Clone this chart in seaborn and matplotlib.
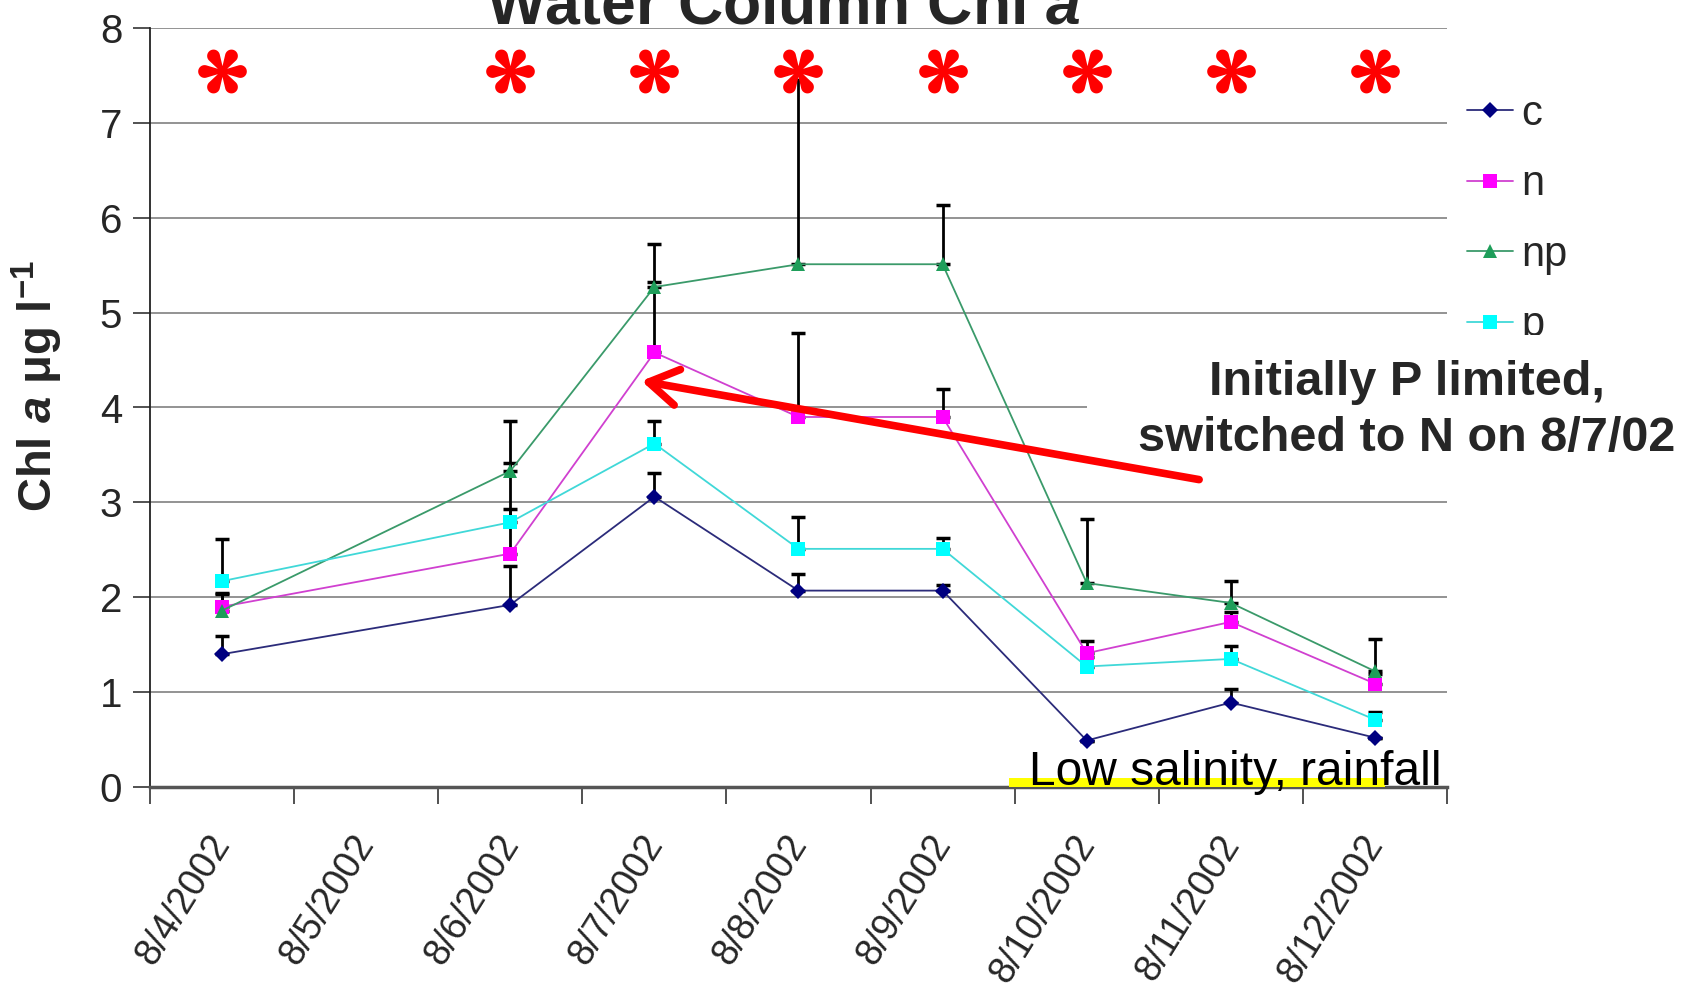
import numpy as np
import pandas as pd
import matplotlib
matplotlib.use("Agg")
import matplotlib.pyplot as plt
import seaborn as sns
from matplotlib.patches import Rectangle, FancyArrowPatch
from matplotlib.lines import Line2D
from matplotlib.path import Path

# ---------------- data ----------------
date_labels = ["8/4/2002", "8/5/2002", "8/6/2002", "8/7/2002", "8/8/2002",
               "8/9/2002", "8/10/2002", "8/11/2002", "8/12/2002"]
sample_dates = ["8/4/2002", "8/6/2002", "8/7/2002", "8/8/2002",
                "8/9/2002", "8/10/2002", "8/11/2002", "8/12/2002"]
series_names = ["c", "n", "np", "p"]

c_vals = [1.40, 1.92, 3.06, 2.07, 2.07, 0.49, 0.89, 0.52]
n_vals = [1.90, 2.46, 4.58, 3.90, 3.90, 1.41, 1.74, 1.09]
np_vals = [1.86, 3.33, 5.27, 5.51, 5.51, 2.15, 1.94, 1.22]
p_vals = [2.17, 2.79, 3.62, 2.51, 2.51, 1.27, 1.35, 0.71]

c_err = [0.19, 0.41, 0.25, 0.18, 0.06, 0.00, 0.14, 0.00]
n_err = [0.15, 0.96, 0.74, 0.89, 0.29, 0.13, 0.10, 0.10]
np_err = [0.17, 0.53, 0.45, 1.94, 0.62, 0.67, 0.23, 0.34]
p_err = [0.44, 0.14, 0.24, 0.34, 0.11, 0.10, 0.14, 0.08]

star_dates = ["8/4/2002", "8/6/2002", "8/7/2002", "8/8/2002",
              "8/9/2002", "8/10/2002", "8/11/2002", "8/12/2002"]
star_level = 7.55

title_text = r"Water Column Chl $a$"
ylabel_text = r"Chl $a$ μg l$^{-1}$"
note_line1 = "Initially P limited,"
note_line2 = "switched to N on 8/7/02"
salinity_text = "Low salinity, rainfall"

# ---------------- styling ----------------
sns.set_theme(style="white")
plt.rcParams["font.family"] = ["Liberation Sans", "DejaVu Sans"]
plt.rcParams["mathtext.fontset"] = "custom"
plt.rcParams["mathtext.rm"] = "Liberation Sans:bold"
plt.rcParams["mathtext.bf"] = "Liberation Sans:bold"
plt.rcParams["mathtext.it"] = "Liberation Sans:bold:italic"
plt.rcParams["mathtext.sf"] = "Liberation Sans:bold"

colors = {"c": "#000080", "n": "#FF00FF", "np": "#1E9E5A", "p": "#00FFFF"}
line_colors = {"c": "#2B2B7A", "n": "#D040D0", "np": "#3A9A6A", "p": "#40D8D8"}
markers = {"c": "D", "n": "s", "np": "^", "p": "s"}
msizes = {"c": 8, "n": 10, "np": 10, "p": 10}


def asterisk_path():
    """Six teardrop lobes, as in the reference's asterisk glyph."""
    verts, codes = [], []
    for ang in np.deg2rad(np.arange(0, 360, 60)):
        cx, r = 0.70, 0.25
        pts = [(0.0, -0.05)]
        for t in np.linspace(-np.pi / 2 - 0.25, np.pi / 2 + 0.25, 24):
            pts.append((cx + r * np.cos(t), r * np.sin(t)))
        pts.append((0.0, 0.05))
        ca, sa = np.cos(ang), np.sin(ang)
        rot = [(x * ca - y * sa, x * sa + y * ca) for x, y in pts]
        verts += rot + [rot[0]]
        codes += [Path.MOVETO] + [Path.LINETO] * (len(rot) - 1) + [Path.CLOSEPOLY]
    return Path(verts, codes)


W, H = 1683, 988
fig = plt.figure(figsize=(W / 100, H / 100), dpi=100)
ax = fig.add_axes([150 / W, 1 - 787 / H, (1447 - 150) / W, (787 - 28) / H])

pos = [date_labels.index(d) + 0.5 for d in sample_dates]
vals = {"c": c_vals, "n": n_vals, "np": np_vals, "p": p_vals}
errs = {"c": c_err, "n": n_err, "np": np_err, "p": p_err}

rows = []
for s in series_names:
    for xp, v in zip(pos, vals[s]):
        rows.append({"pos": xp, "value": v, "series": s})
df = pd.DataFrame(rows)

# error bars (upper only)
for s in series_names:
    ax.errorbar(pos, vals[s], yerr=[np.zeros(len(pos)), errs[s]], fmt="none",
                ecolor="black", elinewidth=2, capsize=5, capthick=2.5, zorder=2)

for s in series_names:
    sub = df[df["series"] == s]
    sns.lineplot(data=sub, x="pos", y="value", ax=ax, color=line_colors[s],
                 linewidth=1.3, marker=markers[s], markersize=msizes[s],
                 markerfacecolor=colors[s], markeredgecolor=colors[s],
                 markeredgewidth=0, legend=False, zorder=3)

# asterisks
star_pos = [date_labels.index(d) + 0.5 for d in star_dates]
ax.plot(star_pos, [star_level] * len(star_pos), ls="none",
        marker=asterisk_path(), ms=35, color="#FF0000", mew=0,
        zorder=8, clip_on=False)

# axes
ax.set_xlim(0, 9)
ax.set_ylim(0, 8)
ax.set_xticks(np.arange(10))
ax.set_xticklabels([])
ax.set_xticks(np.arange(9) + 0.61, minor=True)
ax.set_xticklabels(date_labels, minor=True, rotation=58, ha="right",
                   fontsize=27)
ax.tick_params(axis="x", which="major", length=12, width=1.2, color="#333333",
               direction="out", bottom=True)
ax.tick_params(axis="x", which="minor", length=0, pad=30, bottom=True)
ax.set_yticks(np.arange(0, 9))
ax.set_yticklabels([str(i) for i in range(9)], fontsize=29)
ax.tick_params(axis="y", length=12, width=1.2, color="#333333",
               direction="out", left=True, pad=8)
ax.set_xlabel("")
ax.set_ylabel("")
ax.grid(axis="y", color="#8A8A8A", linewidth=1.3)
ax.grid(axis="x", visible=False)
ax.set_axisbelow(True)
for side in ["top", "right"]:
    ax.spines[side].set_visible(False)
ax.spines["left"].set_color("#222222")
ax.spines["left"].set_linewidth(1.3)
ax.spines["bottom"].set_color("#555555")
ax.spines["bottom"].set_linewidth(2.5)

# yellow highlight and salinity text
ax.add_patch(Rectangle((5.96, 0.0), 8.57 - 5.96, 0.1, color="#FFFF00",
                       zorder=5, clip_on=False, linewidth=0))
ax.text(6.1, 0.02, salinity_text, fontsize=34.5, va="baseline", ha="left",
        color="black", zorder=6)

# legend
handles = [Line2D([0], [0], color=line_colors[s], lw=1.3, marker=markers[s],
                  markersize=msizes[s], markerfacecolor=colors[s],
                  markeredgewidth=0) for s in series_names]
ax.legend(handles, series_names, loc="upper left",
          bbox_to_anchor=(1467 / W, 1 - 94 / H), bbox_transform=fig.transFigure,
          frameon=False, fontsize=30, handlelength=1.1, handletextpad=0.2,
          labelspacing=0.73, borderaxespad=0, borderpad=0)

# white box of the annotation (hides part of legend / gridline)
fig.add_artist(Rectangle((1087 / W, 1 - 470 / H), (W - 1087) / W, (470 - 335) / H,
                         transform=fig.transFigure, facecolor="white",
                         edgecolor="none", zorder=10))
fig.text(1407 / W, 1 - 395 / H, note_line1, fontsize=35, fontweight="bold",
         ha="center", va="baseline", zorder=11)
fig.text(1407 / W, 1 - 451 / H, note_line2, fontsize=35, fontweight="bold",
         ha="center", va="baseline", zorder=11)

# red arrow
arrow = FancyArrowPatch(posA=(7.28, 3.24), posB=(3.41, 4.28),
                        transform=ax.transData,
                        arrowstyle="->,head_length=1.05,head_width=0.65",
                        mutation_scale=20, color="#FF0000", lw=5.5,
                        shrinkA=0, shrinkB=0, zorder=12)
fig.add_artist(arrow)

# title (cut off at the top, as in the source) and y label
fig.text(783 / W, 1 - 24 / H, title_text, fontsize=45, fontweight="bold",
         ha="center", va="baseline")
fig.text(37 / W, 1 - 386 / H, ylabel_text, fontsize=34, fontweight="bold",
         rotation=90, ha="center", va="center")

fig.savefig("out.png", dpi=100, facecolor="white")
